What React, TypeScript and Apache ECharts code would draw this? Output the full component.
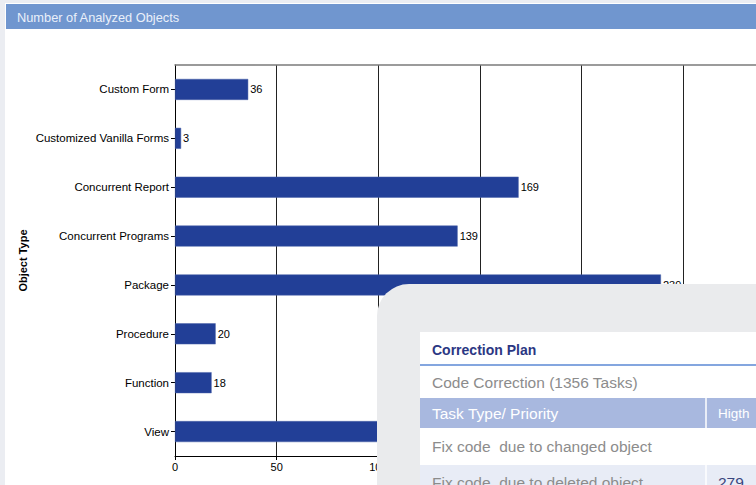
import React, { useEffect, useRef } from "react";
import * as echarts from "echarts";

const categories = [
  "Custom Form",
  "Customized Vanilla Forms",
  "Concurrent Report",
  "Concurrent Programs",
  "Package",
  "Procedure",
  "Function",
  "View",
];
const objectCounts = [36, 3, 169, 139, 239, 20, 18, 146];
const xTicks = { min: 0, max: 300, interval: 50 };

const chartTitle = "Number of Analyzed Objects";
const yAxisTitle = "Object Type";
const planTitle = "Correction Plan";
const planSubtitle = "Code Correction (1356 Tasks)";
const planHeaders = ["Task Type/ Priority", "Higth"];
const planRows = [
  ["Fix code  due to changed object", ""],
  ["Fix code  due to deleted object", "279"],
];

export default function App() {
  const ref = useRef<HTMLDivElement>(null);
  useEffect(() => {
    if (!ref.current) return;
    const chart = echarts.init(ref.current, undefined, { renderer: "svg" });
    const font = "'Liberation Sans', Arial, sans-serif";
    const cardZ = 100;
    const rowText = (t: string, x: number, y: number, fill: string, size = 15.5, weight: any = "normal") => ({
      type: "text",
      z: cardZ + 3,
      x,
      y,
      style: { text: t, fill, font: `${weight} ${size}px ${font}`, textVerticalAlign: "middle" },
    });
    chart.setOption({
      animation: false,
      backgroundColor: "#EBEDF2",
      graphic: [
        { type: "rect", z: -10, shape: { x: 5, y: 3, width: 800, height: 500 }, style: { fill: "#ffffff" }, silent: true },
        { type: "rect", z: 1, shape: { x: 6, y: 4, width: 800, height: 25 }, style: { fill: "#7096CF" } },
        {
          type: "text",
          z: 2,
          x: 17,
          y: 17,
          style: { text: chartTitle, fill: "#EAF0FA", font: `12.8px ${font}`, textVerticalAlign: "middle" },
        },
        // overlay card
        {
          type: "rect",
          z: cardZ,
          shape: { x: 377, y: 284, width: 500, height: 300, r: [32, 0, 0, 0] },
          style: { fill: "#EAEBED" },
        },
        { type: "rect", z: cardZ + 1, shape: { x: 420, y: 332, width: 400, height: 200 }, style: { fill: "#ffffff" } },
        rowText(planTitle, 432, 350, "#2B3783", 14, "bold"),
        { type: "line", z: cardZ + 2, shape: { x1: 420, y1: 365, x2: 800, y2: 365 }, style: { stroke: "#5B88D4", lineWidth: 1.5 } },
        rowText(planSubtitle, 432, 382, "#8C8C8C"),
        { type: "rect", z: cardZ + 2, shape: { x: 420, y: 398, width: 400, height: 30 }, style: { fill: "#A8B8DF" } },
        { type: "line", z: cardZ + 3, shape: { x1: 706, y1: 398, x2: 706, y2: 428 }, style: { stroke: "#ffffff", lineWidth: 1.5 } },
        rowText(planHeaders[0], 432, 413, "#ffffff"),
        rowText(planHeaders[1], 718, 413, "#ffffff", 13.5),
        rowText(planRows[0][0], 432, 446, "#8C8C8C"),
        { type: "rect", z: cardZ + 2, shape: { x: 420, y: 465, width: 400, height: 40 }, style: { fill: "#E8ECF6" } },
        { type: "line", z: cardZ + 3, shape: { x1: 706, y1: 465, x2: 706, y2: 505 }, style: { stroke: "#ffffff", lineWidth: 1.5 } },
        rowText(planRows[1][0], 432, 482, "#8C8C8C"),
        rowText(planRows[1][1], 718, 482, "#3A4680"),
      ],
      grid: { left: 175, top: 65, width: 610, height: 391, containLabel: false },
      xAxis: [
        {
          type: "value",
          min: xTicks.min,
          max: xTicks.max,
          interval: xTicks.interval,
          axisLine: { show: true, lineStyle: { color: "#000", width: 1 } },
          axisTick: { show: true, length: 4, lineStyle: { color: "#000" } },
          axisLabel: { color: "#000", fontSize: 11, fontFamily: font, margin: 5 },
          splitLine: { show: true, lineStyle: { color: "#222", width: 1 } },
        },
        {
          type: "value",
          position: "top",
          min: xTicks.min,
          max: xTicks.max,
          axisLine: { show: true, lineStyle: { color: "#7a7a7a", width: 1.5 } },
          axisTick: { show: false },
          axisLabel: { show: false },
          splitLine: { show: false },
        },
      ],
      yAxis: {
        type: "category",
        data: categories,
        inverse: true,
        name: yAxisTitle,
        nameLocation: "middle",
        nameRotate: 90,
        nameGap: 147,
        nameMoveOverlap: false,
        nameTextStyle: { color: "#000", fontSize: 11, fontWeight: "bold", fontFamily: font },
        axisLine: { show: true, lineStyle: { color: "#000" } },
        axisTick: { show: true, length: 4, alignWithLabel: true, lineStyle: { color: "#000" } },
        axisLabel: { color: "#000", fontSize: 11.5, fontFamily: font, margin: 6 },
        splitLine: { show: false },
      },
      series: [
        {
          type: "bar",
          data: objectCounts,
          barWidth: 21,
          itemStyle: { color: "#223F97", borderColor: "#4A62A8", borderWidth: 0.5 },
          label: {
            show: true,
            position: "right",
            distance: 2,
            color: "#000",
            fontSize: 11,
            fontFamily: font,
          },
        },
      ],
    });
    return () => chart.dispose();
  }, []);
  return (
    <div style={{ position: "fixed", left: 0, top: 0, width: 756, height: 485, overflow: "hidden" }}>
      <div ref={ref} style={{ width: 800, height: 485 }} />
    </div>
  );
}
